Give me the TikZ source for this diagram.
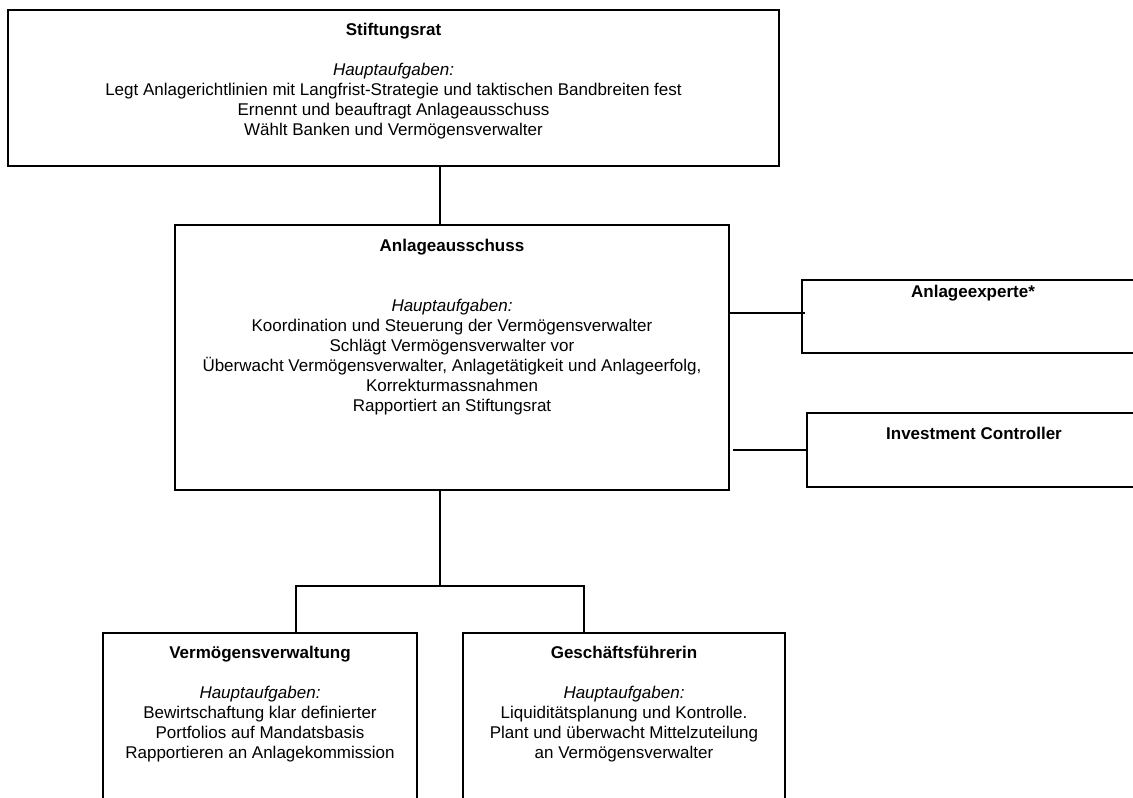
\documentclass[tikz,border=0pt]{standalone}
\usepackage{fontspec}
\setmainfont{Liberation Sans}
\usepackage{tikz}

\begin{document}
\begin{tikzpicture}[x=1pt,y=-1pt,line width=2pt,
  box/.style = {draw,rectangle,inner sep=0pt},
  txt/.style = {align=center,inner sep=0pt,font=\fontsize{17}{20}\selectfont} ]
  \useasboundingbox (0,0) rectangle (1133,798);
  % boxes
  \node[box,minimum width=771pt,minimum height=156pt] (rat) at (393.5,88) {};
  \node[box,minimum width=554pt,minimum height=265pt] (ausschuss) at (452,357.5) {};
  \node[box,minimum width=342pt,minimum height=73pt] (experte) at (973,316.5) {};
  \node[box,minimum width=334pt,minimum height=74pt] (controller) at (974,450) {};
  \node[box,minimum width=314pt,minimum height=197pt] (verwaltung) at (260,731.5) {};
  \node[box,minimum width=322pt,minimum height=197pt] (gf) at (624,731.5) {};
  % texts
  \node[txt] (rat-t) at (393.5,81.5) {\textbf{Stiftungsrat}\\[20pt]
    \textit{Hauptaufgaben:}\\
    Legt Anlagerichtlinien mit Langfrist-Strategie und taktischen Bandbreiten fest\\
    Ernennt und beauftragt Anlageausschuss\\
    Wählt Banken und Vermögensverwalter};
  \node[txt] (ausschuss-t) at (452,327) {\textbf{Anlageausschuss}\\[40pt]
    \textit{Hauptaufgaben:}\\
    Koordination und Steuerung der Vermögensverwalter\\
    Schlägt Vermögensverwalter vor\\
    Überwacht Vermögensverwalter, Anlagetätigkeit und Anlageerfolg,\\
    Korrekturmassnahmen\\
    Rapportiert an Stiftungsrat};
  \node[txt] (experte-t) at (973,293) {\textbf{Anlageexperte*}};
  \node[txt] (controller-t) at (974,433) {\textbf{Investment Controller}};
  \node[txt] (verwaltung-t) at (260,704.5) {\textbf{Vermögensverwaltung}\\[20pt]
    \textit{Hauptaufgaben:}\\
    Bewirtschaftung klar definierter\\
    Portfolios auf Mandatsbasis\\
    Rapportieren an Anlagekommission};
  \node[txt] (gf-t) at (624,704.5) {\textbf{Geschäftsführerin}\\[20pt]
    \textit{Hauptaufgaben:}\\
    Liquiditätsplanung und Kontrolle.\\
    Plant und überwacht Mittelzuteilung\\
    an Vermögensverwalter};
  % connectors
  \coordinate (trunk) at (440,586);
  \coordinate (forkL) at (296,586);
  \coordinate (forkR) at (584,586);
  \draw (rat.south -| trunk) -- (ausschuss.north -| trunk);
  \draw (ausschuss.south -| trunk) -- (trunk);
  \draw (verwaltung.north -| forkL) -- (forkL) -- (forkR) -- (gf.north -| forkR);
  \draw ([yshift=3.5pt]ausschuss.east |- experte.west) -- ([xshift=4pt,yshift=3.5pt]experte.west);
  \draw[shorten <=3pt] (ausschuss.east |- controller.west) -- (controller.west);
\end{tikzpicture}
\end{document}
